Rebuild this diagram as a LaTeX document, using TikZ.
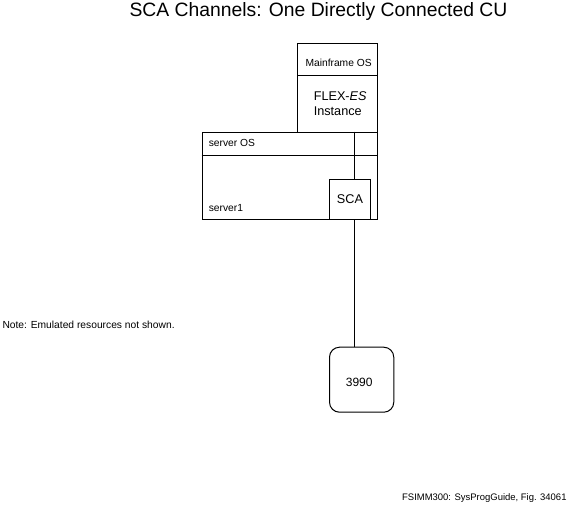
\documentclass[tikz,border=0pt]{standalone}
\usepackage{fontspec}
\setmainfont{Liberation Sans}
\usetikzlibrary{positioning}

\begin{document}
\begin{tikzpicture}[x=0.75pt,y=-0.75pt,line width=0.75pt,
    box/.style={draw=black,rectangle,inner sep=0pt,anchor=north west},
    lbl/.style={inner sep=0pt,anchor=base west,font=\fontsize{7.7}{9}\selectfont},
    big/.style={inner sep=0pt,anchor=base west,font=\fontsize{9.5}{11}\selectfont}]
      \useasboundingbox (0,0) rectangle (575,515);
      % title
      \node[inner sep=0pt,anchor=base,font=\fontsize{14.5}{17}\selectfont] (title) at (318.5,16.7) {SCA Channels: One Directly Connected CU};
      % boxes
      \node[box,minimum width=60pt,minimum height=66.3pt] (mf) at (297.3,43.3) {};
      \node[box,minimum width=131.7pt,minimum height=65.7pt] (srv) at (201.7,131.7) {};
      \node[box,minimum width=30.5pt,minimum height=30.2pt] (sca) at (329.3,179) {};
      \node[box,rounded corners=7.5pt,minimum width=48.2pt,minimum height=48.75pt] (cu) at (329,346.7) {};
      \draw (mf.west |- 0,75.7) -- (mf.east |- 0,75.7);
      \draw (srv.west |- 0,155) -- (srv.east |- 0,155);
      % labels
      \node[lbl] (mfos) at (305,66.7) {Mainframe OS};
      \node[big] (flex) at (313.3,100) {FLEX-\emph{ES}};
      \node[big] (inst) at (313.3,115) {Instance};
      \node[lbl] (srvos) at (208.3,146.7) {server OS};
      \node[lbl] (srvname) at (208.3,211) {server1};
      \node[big,anchor=base] (scalbl) at (350,203.3) {SCA};
      \node[inner sep=0pt,anchor=base,font=\fontsize{9}{11}\selectfont] (culbl) at (359.2,386.7) {3990};
      \node[lbl,anchor=base west] (note) at (2,328.3) {Note: Emulated resources not shown.};
      \node[lbl,anchor=base west,font=\fontsize{7.1}{9}\selectfont] (fig) at (401.7,500) {FSIMM300: SysProgGuide, Fig. 34061};
      % connectors
      \coordinate (chtop) at (354,131.7);
      \path[draw]
      (chtop) -- (chtop |- sca.north)
      (chtop |- sca.south) -- (chtop |- cu.north);
\end{tikzpicture}
\end{document}
